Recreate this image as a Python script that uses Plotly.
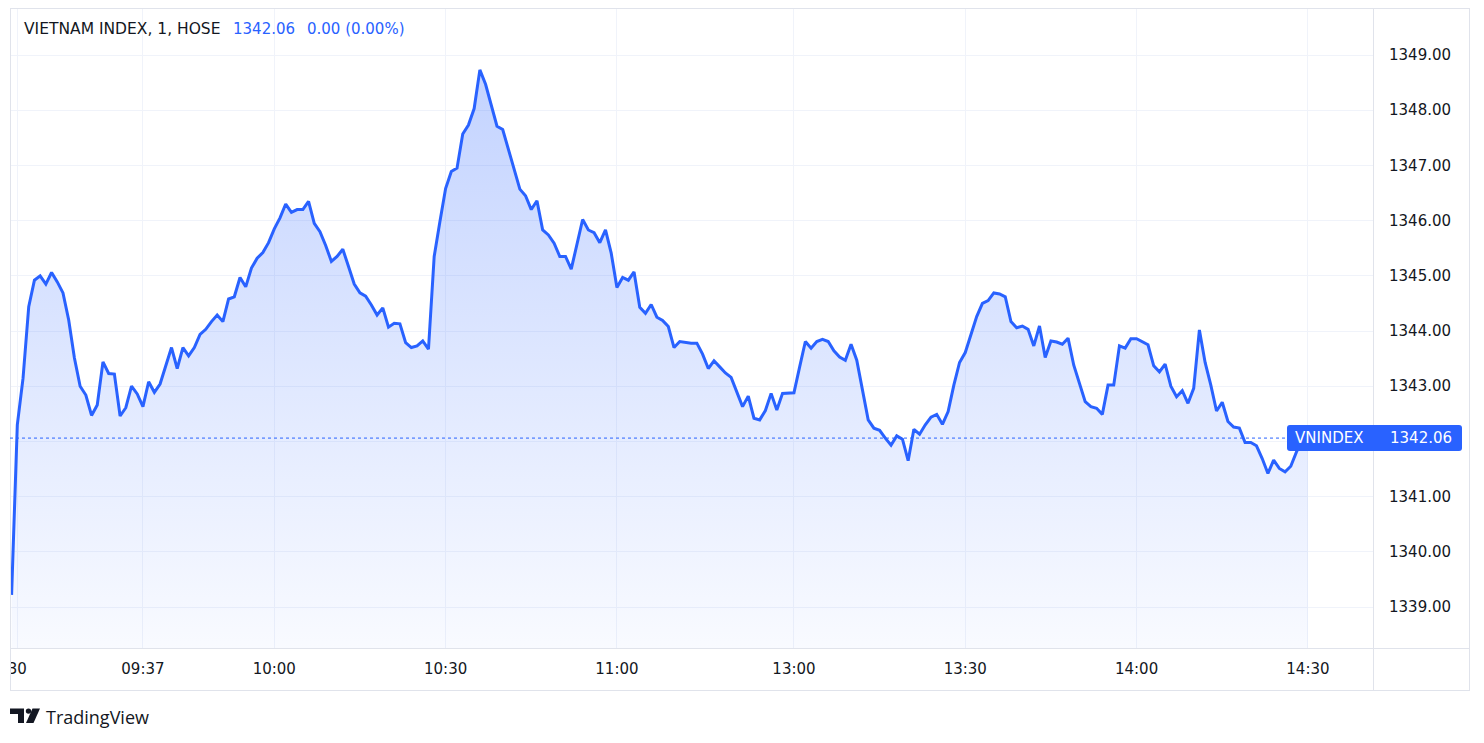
import plotly.graph_objects as go

# ---- data (1-minute bars, VN-Index) ----
values = [
    1339.22, 1342.30, 1343.14, 1344.44, 1344.92, 1345.00, 1344.85, 1345.06, 1344.89, 1344.69,
    1344.20, 1343.51, 1343.00, 1342.84, 1342.47, 1342.66, 1343.44, 1343.23, 1343.22, 1342.46,
    1342.61, 1343.00, 1342.86, 1342.63, 1343.08, 1342.89, 1343.04, 1343.35, 1343.70, 1343.32,
    1343.70, 1343.55, 1343.70, 1343.94, 1344.03, 1344.17, 1344.29, 1344.17, 1344.58, 1344.62,
    1344.97, 1344.80, 1345.14, 1345.32, 1345.42, 1345.60, 1345.85, 1346.05, 1346.30, 1346.15,
    1346.20, 1346.20, 1346.35, 1345.95, 1345.80, 1345.55, 1345.26, 1345.35, 1345.48, 1345.17,
    1344.85, 1344.69, 1344.63, 1344.47, 1344.29, 1344.42, 1344.07, 1344.14, 1344.13, 1343.79,
    1343.70, 1343.73, 1343.82, 1343.67, 1345.35, 1345.98, 1346.58, 1346.89, 1346.95, 1347.57,
    1347.73, 1348.03, 1348.73, 1348.47, 1348.09, 1347.71, 1347.65, 1347.29, 1346.95, 1346.57,
    1346.45, 1346.20, 1346.36, 1345.83, 1345.74, 1345.59, 1345.35, 1345.35, 1345.12, 1345.59,
    1346.02, 1345.83, 1345.78, 1345.60, 1345.83, 1345.41, 1344.79, 1344.97, 1344.92, 1345.07,
    1344.43, 1344.32, 1344.48, 1344.25, 1344.19, 1344.08, 1343.70, 1343.81, 1343.79, 1343.78,
    1343.78, 1343.58, 1343.32, 1343.46, 1343.35, 1343.24, 1343.16, 1342.90, 1342.63, 1342.82,
    1342.42, 1342.39, 1342.56, 1342.87, 1342.57, 1342.87, 1342.87, 1342.88, 1343.35, 1343.81,
    1343.69, 1343.81, 1343.85, 1343.81, 1343.64, 1343.53, 1343.47, 1343.76, 1343.47, 1342.93,
    1342.39, 1342.24, 1342.20, 1342.06, 1341.93, 1342.10, 1342.04, 1341.65, 1342.22, 1342.13,
    1342.30, 1342.44, 1342.49, 1342.31, 1342.54, 1343.02, 1343.43, 1343.61, 1343.93, 1344.26,
    1344.50, 1344.55, 1344.69, 1344.67, 1344.62, 1344.17, 1344.06, 1344.09, 1344.03, 1343.73,
    1344.09, 1343.52, 1343.82, 1343.80, 1343.76, 1343.87, 1343.38, 1343.05, 1342.72, 1342.63,
    1342.60, 1342.49, 1343.02, 1343.02, 1343.73, 1343.69, 1343.86, 1343.86, 1343.80, 1343.75,
    1343.37, 1343.26, 1343.40, 1343.00, 1342.81, 1342.92, 1342.69, 1342.96, 1344.02, 1343.43,
    1343.02, 1342.55, 1342.71, 1342.36, 1342.26, 1342.24, 1341.98, 1341.98, 1341.92, 1341.69,
    1341.42, 1341.66, 1341.51, 1341.45, 1341.55, 1341.81, 1342.00, 1342.06,
]
bar_index = list(range(len(values)))

time_tick_bars = [1, 23, 46, 76, 106, 137, 167, 197, 227]
time_tick_labels = ["30", "09:37", "10:00", "10:30", "11:00", "13:00", "13:30", "14:00", "14:30"]

price_ticks = [1339, 1340, 1341, 1342, 1343, 1344, 1345, 1346, 1347, 1348, 1349]
# the 1342.00 label sits under the last-price badge, so it is not drawn
price_tick_labels = ["1339.00", "1340.00", "1341.00", "", "1343.00", "1344.00",
                     "1345.00", "1346.00", "1347.00", "1348.00", "1349.00"]

symbol_title = "VIETNAM INDEX, 1, HOSE"
last_price_text = "1342.06"
change_text = "0.00 (0.00%)"
series_name = "VNINDEX"
last_price = values[-1]

# ---- styling ----
OFF = 8                       # body margin of the html page
W, H = 1484 - 2 * OFF, 743 - 2 * OFF
PL, PR, PT, PB = 10, 1373, 8, 648   # plot area in screen pixels
BLUE = "#2962FF"
TEXT = "#131722"
GRID = "#f0f3fa"
BORDER = "#e0e3eb"
FONT = "DejaVu Sans"

# price scale: 1349 at screen y=55, 55.2 px per point
Y_TOP = 1349 + (55 - PT) / 55.2
Y_BOT = 1349 - (PB - 55) / 55.2


def px(X):
    return (X - PL) / (PR - PL)


def py(Y):
    return (PB - Y) / (PB - PT)


fig = go.Figure()
fig.add_trace(go.Scatter(
    x=bar_index, y=values, mode="lines",
    line=dict(color=BLUE, width=3),
    fill="tozeroy",
    fillgradient=dict(type="vertical",
                      colorscale=[[0, "rgba(41,98,255,0.03)"], [1, "rgba(41,98,255,0.28)"]],
                      start=Y_BOT, stop=max(values)),
    hoverinfo="skip", showlegend=False,
))

shapes = []
# white cover so the first time label looks clipped by the frame
shapes.append(dict(type="rect", xref="paper", yref="paper", x0=px(OFF - 1), x1=px(10.5),
                   y0=py(690), y1=py(649), fillcolor="white", line=dict(width=0), layer="above"))
# frame lines
for (x0, y0, x1, y1) in [(10, 8.5, 1470, 8.5), (10.5, 8, 10.5, 690), (1469.5, 8, 1469.5, 690),
                         (10, 690.5, 1470, 690.5), (1373.5, 8, 1373.5, 690), (10, 648.5, 1470, 648.5)]:
    shapes.append(dict(type="line", xref="paper", yref="paper", x0=px(x0), y0=py(y0), x1=px(x1), y1=py(y1),
                       line=dict(color=BORDER, width=1), layer="above"))
# last-price dotted line
shapes.append(dict(type="line", xref="paper", yref="y", x0=0, x1=1, y0=last_price, y1=last_price,
                   line=dict(color=BLUE, width=1, dash="dot"), layer="above"))
# last-price label box (rounded)
box = ("M -83,13 L 86,13 Q 89,13 89,10 L 89,-10 Q 89,-13 86,-13 L -83,-13 "
       "Q -86,-13 -86,-10 L -86,10 Q -86,13 -83,13 Z")
shapes.append(dict(type="path", xref="paper", yref="y", xsizemode="pixel", ysizemode="pixel",
                   xanchor=1, yanchor=last_price, path=box, fillcolor=BLUE,
                   line=dict(width=0), layer="above"))


# TradingView logo
def poly(pts):
    return "M " + " L ".join(f"{px(a)},{py(b)}" for a, b in pts) + " Z"


shapes.append(dict(type="path", xref="paper", yref="paper",
                   path=poly([(10, 708.5), (24, 708.5), (24, 723), (18, 723), (18, 714), (10, 714)]),
                   fillcolor=TEXT, line=dict(width=0), layer="above"))
shapes.append(dict(type="circle", xref="paper", yref="paper",
                   x0=px(25.8), x1=px(31.2), y0=py(713.8), y1=py(708.4),
                   fillcolor=TEXT, line=dict(width=0), layer="above"))
shapes.append(dict(type="path", xref="paper", yref="paper",
                   path=poly([(32.5, 708.5), (40, 708.5), (33.5, 723), (26, 723)]),
                   fillcolor=TEXT, line=dict(width=0), layer="above"))

annotations = [
    dict(text=symbol_title, xref="paper", yref="paper", x=px(21.5), y=py(29), xanchor="left",
         yanchor="middle", showarrow=False, font=dict(family=FONT, size=15.5, color=TEXT)),
    dict(text=last_price_text, xref="paper", yref="paper", x=px(231), y=py(29), xanchor="left",
         yanchor="middle", showarrow=False, font=dict(family=FONT, size=15, color=BLUE)),
    dict(text=change_text, xref="paper", yref="paper", x=px(305), y=py(29), xanchor="left",
         yanchor="middle", showarrow=False, font=dict(family=FONT, size=15, color=BLUE)),
    dict(text=series_name, xref="paper", yref="y", x=1, xshift=-44, y=last_price, xanchor="center",
         yanchor="middle", showarrow=False, font=dict(family=FONT, size=15, color="white")),
    dict(text=last_price_text, xref="paper", yref="y", x=1, xshift=48, y=last_price, xanchor="center",
         yanchor="middle", showarrow=False, font=dict(family=FONT, size=15, color="white")),
    dict(text="TradingView", xref="paper", yref="paper", x=px(44), y=py(717), xanchor="left",
         yanchor="middle", showarrow=False, font=dict(family="Open Sans", size=18, color=TEXT)),
]

fig.update_layout(
    width=W, height=H,
    margin=dict(l=PL - OFF, r=(W + OFF) - PR, t=PT - OFF, b=(H + OFF) - PB, pad=0),
    paper_bgcolor="white", plot_bgcolor="white",
    shapes=shapes, annotations=annotations,
    xaxis=dict(range=[-0.28, 238.4], tickmode="array", tickvals=time_tick_bars, ticktext=time_tick_labels,
               showgrid=True, gridcolor=GRID, gridwidth=1, zeroline=False, showline=False,
               ticks="", ticklabelstandoff=10, ticklabeloverflow="allow",
               tickfont=dict(family=FONT, size=15, color=TEXT), fixedrange=True),
    yaxis=dict(range=[Y_BOT, Y_TOP], side="right", tickmode="array", tickvals=price_ticks,
               ticktext=price_tick_labels, showgrid=True, gridcolor=GRID, gridwidth=1, zeroline=False,
               showline=False, ticks="", ticklabelstandoff=15, ticklabeloverflow="allow",
               tickfont=dict(family=FONT, size=15, color=TEXT), fixedrange=True),
    hovermode=False,
)

fig.write_html("out.html", config={"displayModeBar": False})
